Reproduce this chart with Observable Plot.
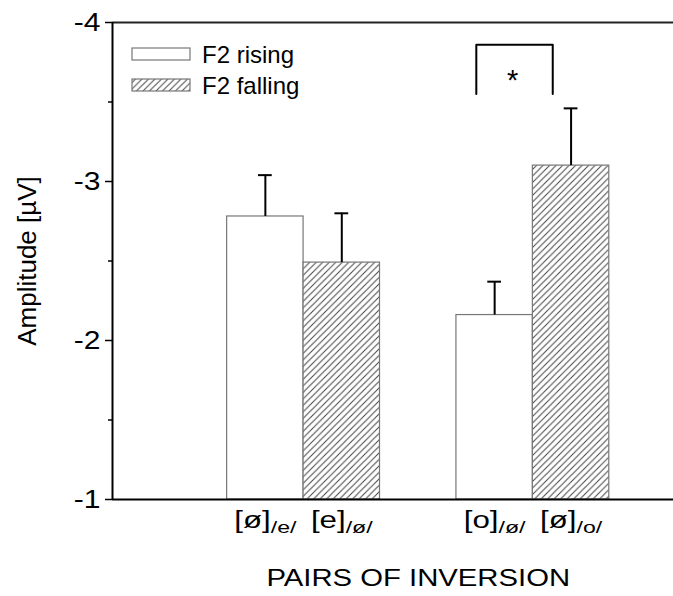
<!DOCTYPE html>
<html>
<head>
<meta charset="utf-8">
<script src="https://cdn.jsdelivr.net/npm/d3@7"></script>
<script src="https://cdn.jsdelivr.net/npm/@observablehq/plot@0.6"></script>
<style>
  html, body { margin: 0; padding: 0; background: #fff; }
  svg { display: block; }
</style>
</head>
<body>
<div id="chart"></div>
<script>
// Mean MMN amplitudes per stimulus pair, with SEM (error bars drawn upward only)
const categories = ["[ø]_/e/", "[e]_/ø/", "[o]_/ø/", "[ø]_/o/"];
const conditions = ["F2 rising", "F2 falling", "F2 rising", "F2 falling"];
const amplitudes = [-2.78, -2.49, -2.16, -3.10];
const errors = [0.26, 0.31, 0.21, 0.36];
const yTicks = [-4, -3, -2, -1];
const yMinorTicks = [-3.5, -2.5, -1.5];
const legendItems = ["F2 rising", "F2 falling"];
const significance = {from: 2, to: 3, label: "*", low: -3.55, high: -3.86};
const yTitle = "Amplitude [µV]";
const xTitle = "PAIRS OF INVERSION";

const FONT = "'Liberation Sans', Arial, Helvetica, sans-serif";
const HATCH = "url(#hatch)";

// two groups of two adjacent bars, each bar one unit wide
const bars = categories.map((category, i) => {
  const group = Math.floor(i / 2), k = i % 2;
  const x1 = 1.5 + 3 * group + k;
  return {category, condition: conditions[i], value: amplitudes[i], err: errors[i],
          x1, x2: x1 + 1, xc: x1 + 0.5};
});
const capHalf = 0.09;
const fillFor = c => c === "F2 rising" ? "white" : HATCH;

// significance bracket between two bars
const shift = -0.24;
const bx1 = bars[significance.from].xc + shift;
const bx2 = bars[significance.to].xc + shift;
const bracket = [
  {x: bx1, y: significance.low}, {x: bx1, y: significance.high},
  {x: bx2, y: significance.high}, {x: bx2, y: significance.low}
];
const titleX = (bars[0].x1 + bars[bars.length - 1].x2) / 2;

const plot = Plot.plot({
  width: 673, height: 596,
  marginLeft: 112, marginRight: 0, marginTop: 22, marginBottom: 97,
  style: {fontFamily: FONT, fontSize: "24px", background: "white", color: "black"},
  x: {domain: [0, 7.34], axis: null},
  y: {domain: [-1, -4], axis: null},
  marks: [
    Plot.rectY(bars.filter(d => d.condition === legendItems[0]),
      {x1: "x1", x2: "x2", y1: -1, y2: "value", fill: "white", stroke: "#777", strokeWidth: 1.2}),
    Plot.rectY(bars.filter(d => d.condition === legendItems[1]),
      {x1: "x1", x2: "x2", y1: -1, y2: "value", fill: HATCH, stroke: "#777", strokeWidth: 1.2}),
    // error bars
    Plot.ruleX(bars, {x: "xc", y1: "value", y2: d => d.value - d.err, stroke: "black", strokeWidth: 2}),
    Plot.ruleY(bars, {x1: d => d.xc - capHalf, x2: d => d.xc + capHalf, y: d => d.value - d.err,
      stroke: "black", strokeWidth: 2}),
    // frame lines
    Plot.ruleY([-4], {stroke: "#222", strokeWidth: 2}),
    Plot.ruleY([-1], {stroke: "black", strokeWidth: 2}),
    Plot.ruleX([0], {y1: -1, y2: -4, stroke: "black", strokeWidth: 2}),
    // y axis
    Plot.axisY(yTicks, {tickSize: 7, tickPadding: 5, fontSize: 25, strokeWidth: 1.5,
      tickFormat: d => String(d), label: null, ariaDescription: "wide-1.2"}),
    Plot.axisY(yMinorTicks, {tickSize: 4, strokeWidth: 1.5, tickFormat: () => "", label: null}),
    Plot.text([yTitle], {frameAnchor: "left", textAnchor: "middle", dx: -85, rotate: -90,
      fontSize: 26}),
    // x labels and title
    Plot.text(bars, {x: "xc", text: "category", frameAnchor: "bottom", dy: 28,
      lineAnchor: "bottom", fontSize: 23, ariaDescription: "wide-1.36"}),
    Plot.text([xTitle], {x: () => titleX, frameAnchor: "bottom", dy: 86,
      lineAnchor: "bottom", fontSize: 24, ariaDescription: "wide-1.22"}),
    // significance
    Plot.line(bracket, {x: "x", y: "y", stroke: "black", strokeWidth: 2}),
    Plot.text([significance.label], {x: () => (bx1 + bx2) / 2, y: () => significance.high,
      dy: 36, lineAnchor: "middle", fontSize: 29, dx: -2})
  ]
});

document.getElementById("chart").appendChild(plot);
const svg = d3.select(plot);

// diagonal hatch pattern
const defs = svg.insert("defs", ":first-child");
const pat = defs.append("pattern")
  .attr("id", "hatch").attr("patternUnits", "userSpaceOnUse")
  .attr("width", 6.5).attr("height", 6.5);
pat.append("rect").attr("width", 6.5).attr("height", 6.5).attr("fill", "white");
pat.append("path")
  .attr("d", "M-1,1L1,-1M0,6.5L6.5,0M5.5,7.5L7.5,5.5")
  .attr("stroke", "#444").attr("stroke-width", 1);

// subscripts in the category labels
svg.selectAll("text").filter(function () { return this.textContent.includes("_"); })
  .each(function () {
    const [main, sub] = this.textContent.split("_");
    const t = d3.select(this);
    t.text(null);
    t.append("tspan").text(main);
    t.append("tspan").attr("dy", "0.32em").attr("font-size", 17).text(sub);
  });

// horizontally widened glyphs for the axis texts
svg.selectAll("g[aria-description^='wide-']").each(function () {
  const factor = +this.getAttribute("aria-description").slice(5);
  d3.select(this).selectAll("text").each(function () {
    const w = this.getComputedTextLength();
    if (w > 0) {
      this.setAttribute("textLength", (w * factor).toFixed(1));
      this.setAttribute("lengthAdjust", "spacingAndGlyphs");
    }
  });
});

// legend
const legend = svg.append("g")
  .attr("font-family", FONT).attr("font-size", 24).attr("text-anchor", "start");
legendItems.forEach((name, i) => {
  const y = 48 + i * 31;
  legend.append("rect").attr("x", 132).attr("y", y).attr("width", 58).attr("height", 12)
    .attr("fill", fillFor(name)).attr("stroke", "#777").attr("stroke-width", 1.2);
  legend.append("text").attr("x", 202).attr("y", y + 15).text(name);
});
</script>
</body>
</html>
